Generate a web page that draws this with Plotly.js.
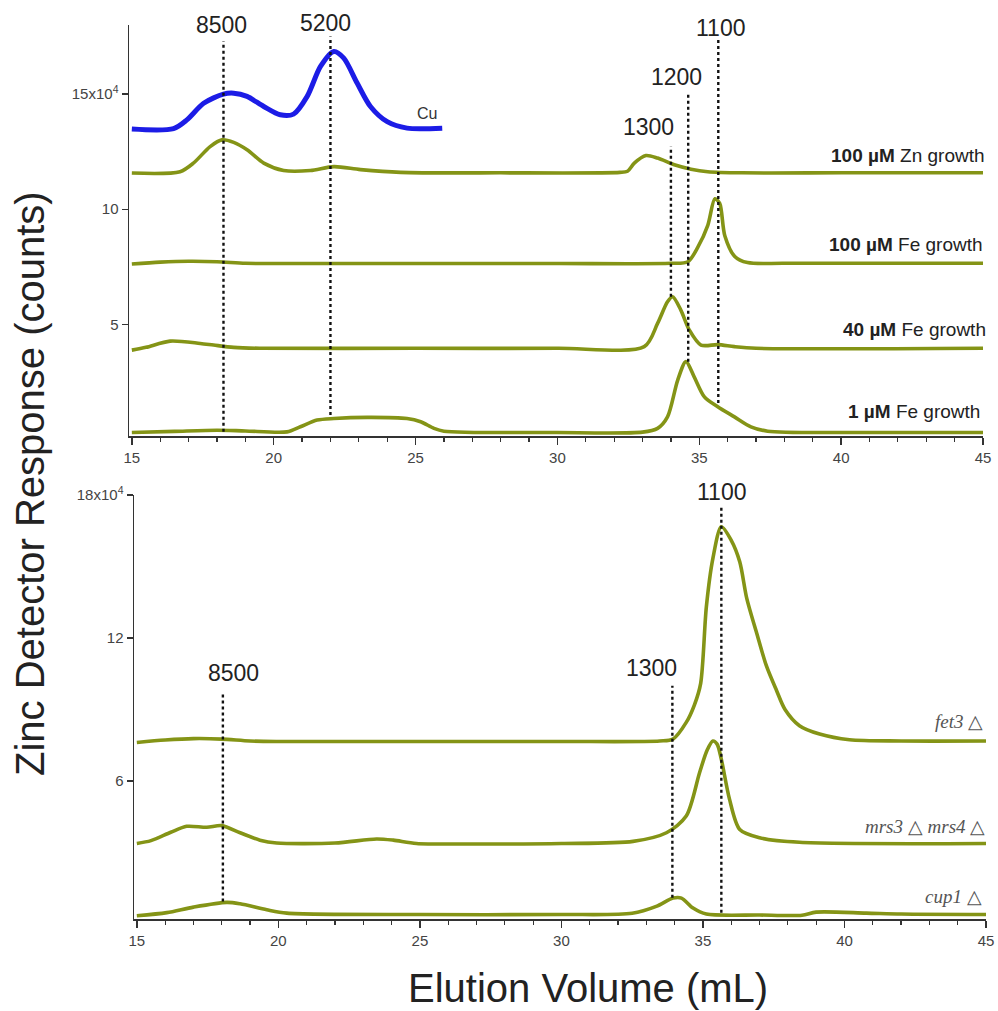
<!DOCTYPE html>
<html>
<head>
<meta charset="utf-8">
<script src="https://cdn.plot.ly/plotly-3.0.1.min.js"></script>
<style>html,body{margin:0;padding:0;background:#fff;}#chart{width:998px;height:1011px;}</style>
</head>
<body>
<div id="chart"></div>
<script>
// ---------- DATA (values in 10^4 counts vs elution volume in mL) ----------
const cuX = [15, 16.47, 16.94, 17.53, 18.23, 18.59, 19.06, 19.65, 20.23, 20.7, 21.18, 21.65, 22.12, 22.47, 22.94, 23.41, 24.0, 24.7, 25.94];
const cuY = [13.48, 13.5, 13.88, 14.6, 15.0, 15.04, 14.9, 14.46, 14.1, 14.13, 14.9, 16.2, 16.85, 16.56, 15.48, 14.46, 13.8, 13.52, 13.52];

const zn100X = [15, 16.7, 17.17, 17.76, 18.18, 18.59, 19.06, 19.65, 20.35, 21.29, 22.12, 23.06, 24.47, 28, 32.2, 32.47, 32.71, 33.12, 33.53, 34.12, 34.71, 35.3, 36.5, 40, 45];
const zn100Y = [11.57, 11.63, 12.0, 12.72, 13.01, 12.9, 12.58, 12.0, 11.68, 11.68, 11.85, 11.72, 11.6, 11.58, 11.6, 11.65, 12.0, 12.33, 12.22, 11.93, 11.74, 11.63, 11.58, 11.58, 11.58];

const fe100X = [15, 16, 17, 18, 19, 20, 25, 30, 34, 34.6, 34.95, 35.3, 35.55, 35.72, 35.9, 36.25, 36.7, 38, 45];
const fe100Y = [7.62, 7.7, 7.74, 7.72, 7.65, 7.64, 7.64, 7.64, 7.65, 7.72, 8.35, 9.3, 10.45, 10.25, 8.85, 7.95, 7.68, 7.65, 7.65];

const fe40X = [15, 15.5, 16.35, 17.41, 17.88, 18.59, 19.5, 25, 30, 33.06, 33.53, 33.88, 34.06, 34.35, 34.65, 35.06, 35.65, 36.24, 37, 45];
const fe40Y = [3.88, 4.0, 4.27, 4.17, 4.1, 4.0, 3.96, 3.96, 3.96, 4.03, 5.04, 5.98, 6.2, 5.62, 4.75, 4.1, 4.12, 4.03, 3.96, 3.96];

const fe1X = [15, 16.5, 18, 19, 20.47, 20.94, 21.53, 22.12, 23.3, 24.7, 25.18, 25.65, 26.0, 30, 33.0, 33.53, 33.88, 34.24, 34.53, 34.82, 35.18, 35.65, 36.24, 36.82, 37.41, 40, 45];
const fe1Y = [0.3, 0.35, 0.4, 0.37, 0.33, 0.55, 0.84, 0.91, 0.96, 0.91, 0.77, 0.48, 0.36, 0.3, 0.32, 0.48, 0.98, 2.58, 3.38, 2.72, 1.85, 1.42, 0.98, 0.55, 0.36, 0.3, 0.3];

const fet3X = [15, 16, 17, 18, 19, 20, 25, 30, 33.47, 33.94, 34.41, 34.7, 34.92, 35.12, 35.35, 35.65, 36.0, 36.3, 36.55, 36.9, 37.24, 37.6, 37.9, 38.41, 39.12, 40.18, 42, 45];
const fet3Y = [7.62, 7.72, 7.78, 7.76, 7.68, 7.66, 7.66, 7.66, 7.68, 7.76, 8.46, 9.2, 10.1, 13.3, 15.33, 16.67, 16.1, 15.2, 13.65, 12.2, 10.84, 9.8, 9.0, 8.32, 7.97, 7.73, 7.68, 7.68];

const mrsX = [15, 15.5, 16.2, 16.76, 17.47, 18.0, 18.65, 19.35, 19.94, 22, 23.47, 24.06, 24.88, 27, 30, 32.53, 33.71, 34.41, 34.88, 35.15, 35.35, 35.5, 35.65, 35.94, 36.3, 37.0, 38.41, 45];
const mrsY = [3.38, 3.5, 3.85, 4.1, 4.06, 4.13, 3.83, 3.52, 3.4, 3.4, 3.57, 3.52, 3.38, 3.36, 3.38, 3.47, 3.83, 4.53, 6.35, 7.3, 7.68, 7.55, 6.91, 5.23, 3.97, 3.62, 3.43, 3.38];

const cup1X = [15, 16.06, 17.0, 18.18, 18.65, 19.59, 20.3, 25, 30, 32.5, 33.35, 33.94, 34.24, 34.65, 35.12, 37, 38.5, 39.0, 40.77, 42, 45];
const cup1Y = [0.35, 0.48, 0.71, 0.91, 0.85, 0.6, 0.46, 0.4, 0.4, 0.45, 0.74, 1.09, 1.09, 0.67, 0.42, 0.38, 0.37, 0.5, 0.46, 0.42, 0.4];

// molecular-weight markers
const mwTopLabels = ['8500', '5200', '1300', '1200', '1100'];
const mwTopX = [18.23, 22.0, 34.0, 34.61, 35.67];
const mwTopYTop = [17.29, 17.5, 12.72, 15.1, 17.36];
const mwTopYBot = [0.33, 1.06, 6.2, 3.38, 1.58];

const mwBotLabels = ['8500', '1300', '1100'];
const mwBotX = [18.04, 33.92, 35.65];
const mwBotYTop = [9.65, 10.0, 17.58];
const mwBotYBot = [0.95, 1.1, 0.47];

const topSeriesLabels = ['<b>100 µM</b> Zn growth', '<b>100 µM</b> Fe growth', '<b>40 µM</b> Fe growth', '<b>1 µM</b> Fe growth'];
const botSeriesLabels = ['<i>fet3</i> △', '<i>mrs3</i> △ <i>mrs4</i> △', '<i>cup1</i> △'];

const topTickVals = [5, 10, 15];
const topTickText = ['5', '10', '15x10<sup>4</sup>'];
const botTickVals = [6, 12, 18];
const botTickText = ['6', '12', '18x10<sup>4</sup>'];

// ---------- STYLE ----------
const W = 998, H = 1011;
const px = v => v / W;
const py = v => 1 - v / H;
const OLIVE = '#849416';
const FONT = 'Liberation Sans, Arial, sans-serif';

function curve(x, y, xa, ya, color, width) {
  return {x: x, y: y, xaxis: xa, yaxis: ya, type: 'scatter', mode: 'lines',
          line: {color: color, width: width, shape: 'spline', smoothing: 0.8},
          hoverinfo: 'skip', showlegend: false};
}
function mwLines(xs, ytop, ybot, xa, ya) {
  return xs.map((x, i) => ({x: [x, x], y: [ybot[i], ytop[i]], xaxis: xa, yaxis: ya,
    type: 'scatter', mode: 'lines', line: {color: '#111', width: 2.4, dash: 'dot'},
    hoverinfo: 'skip', showlegend: false}));
}

const traces = [
  curve(cuX, cuY, 'x', 'y', '#1c1ce6', 5),
  curve(zn100X, zn100Y, 'x', 'y', OLIVE, 3.6),
  curve(fe100X, fe100Y, 'x', 'y', OLIVE, 3.6),
  curve(fe40X, fe40Y, 'x', 'y', OLIVE, 3.6),
  curve(fe1X, fe1Y, 'x', 'y', OLIVE, 3.6),
  curve(fet3X, fet3Y, 'x2', 'y2', OLIVE, 3.6),
  curve(mrsX, mrsY, 'x2', 'y2', OLIVE, 3.6),
  curve(cup1X, cup1Y, 'x2', 'y2', OLIVE, 3.6),
  ...mwLines(mwTopX, mwTopYTop, mwTopYBot, 'x', 'y'),
  ...mwLines(mwBotX, mwBotYTop, mwBotYBot, 'x2', 'y2')
];

const xAxisBase = {
  range: [14.9, 45], showline: true, linecolor: '#333', linewidth: 1.5,
  ticks: 'outside', ticklen: 7, tickwidth: 1.5, tickcolor: '#333',
  tick0: 15, dtick: 5, showgrid: false, zeroline: false,
  minor: {dtick: 1, ticks: 'outside', ticklen: 4, tickwidth: 1.2, tickcolor: '#333', showgrid: false},
  tickfont: {family: FONT, size: 15, color: '#444'}
};
const yAxisBase = {
  showline: true, linecolor: '#333', linewidth: 1.5,
  ticks: 'outside', ticklen: 6, tickwidth: 1.3, tickcolor: '#333',
  showgrid: false, zeroline: false, tickmode: 'array',
  tickfont: {family: FONT, size: 15, color: '#444'}
};

const annotations = [];
// MW labels
const mwTopLabelPos = [[221.7, 25], [325, 23], [648.3, 126.7], [676.7, 76.7], [720, 28]];
mwTopLabels.forEach((t, i) => annotations.push({text: t, xref: 'paper', yref: 'paper',
  x: px(mwTopLabelPos[i][0]), y: py(mwTopLabelPos[i][1]), xanchor: 'center', yanchor: 'middle',
  showarrow: false, font: {family: FONT, size: 23, color: '#222'}}));
const mwBotLabelPos = [[233.3, 673.3], [651.7, 668.3], [721.7, 491.7]];
mwBotLabels.forEach((t, i) => annotations.push({text: t, xref: 'paper', yref: 'paper',
  x: px(mwBotLabelPos[i][0]), y: py(mwBotLabelPos[i][1]), xanchor: 'center', yanchor: 'middle',
  showarrow: false, font: {family: FONT, size: 23, color: '#222'}}));
// series labels
const topLabelPos = [[987, 155], [985, 245], [988, 330], [982, 411.7]];
topSeriesLabels.forEach((t, i) => annotations.push({text: t, xref: 'paper', yref: 'paper',
  x: px(topLabelPos[i][0]), y: py(topLabelPos[i][1]), xanchor: 'right', yanchor: 'middle',
  showarrow: false, font: {family: FONT, size: 19, color: '#222'}}));
const botLabelPos = [[985, 721.7], [987, 826.7], [984, 896.7]];
botSeriesLabels.forEach((t, i) => annotations.push({text: t, xref: 'paper', yref: 'paper',
  x: px(botLabelPos[i][0]), y: py(botLabelPos[i][1]), xanchor: 'right', yanchor: 'middle',
  showarrow: false, font: {family: 'Liberation Serif, Times New Roman, serif', size: 19, color: '#555'}}));
// Cu label
annotations.push({text: 'Cu', xref: 'paper', yref: 'paper', x: px(426.7), y: py(113), xanchor: 'center', yanchor: 'middle',
  showarrow: false, font: {family: FONT, size: 16, color: '#333'}});
// axis titles
annotations.push({text: 'Zinc Detector Response (counts)', xref: 'paper', yref: 'paper', x: px(30), y: py(484),
  xanchor: 'center', yanchor: 'middle', textangle: -90, showarrow: false, font: {family: FONT, size: 40, color: '#222'}});
annotations.push({text: 'Elution Volume (mL)', xref: 'paper', yref: 'paper', x: px(588), y: py(988),
  xanchor: 'center', yanchor: 'middle', showarrow: false, font: {family: FONT, size: 40, color: '#222'}});

const layout = {
  width: W, height: H, margin: {l: 0, r: 0, t: 0, b: 0},
  paper_bgcolor: '#fff', plot_bgcolor: '#fff', showlegend: false,
  xaxis: Object.assign({}, xAxisBase, {domain: [px(129), px(983)], anchor: 'y'}),
  yaxis: Object.assign({}, yAxisBase, {domain: [py(436), py(25)], range: [0.15, 18], anchor: 'x',
    tickvals: topTickVals, ticktext: topTickText}),
  xaxis2: Object.assign({}, xAxisBase, {domain: [px(134), px(986)], anchor: 'y2'}),
  yaxis2: Object.assign({}, yAxisBase, {domain: [py(919.3), py(495)], range: [0.2, 18], anchor: 'x2',
    tickvals: botTickVals, ticktext: botTickText}),
  annotations: annotations
};

Plotly.newPlot('chart', traces, layout, {displayModeBar: false, staticPlot: true});
</script>
</body>
</html>
